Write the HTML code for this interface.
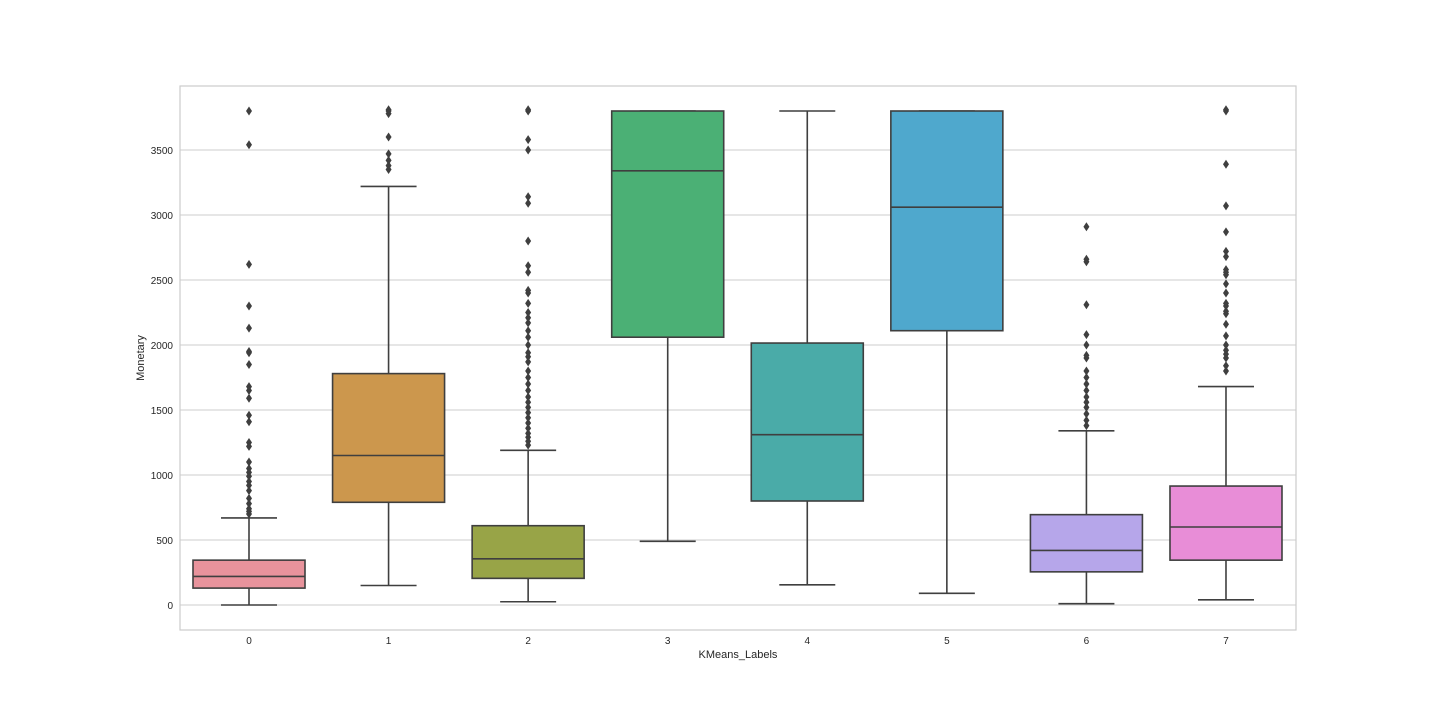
<!DOCTYPE html>
<html><head><meta charset="utf-8"><style>
body{margin:0;background:#fff;font-family:"Liberation Sans",sans-serif}
</style></head><body>
<svg id="chart" width="1440" height="720" xmlns="http://www.w3.org/2000/svg"></svg>
<script>
const categories=["0","1","2","3","4","5","6","7"];
const whiskerLow=[0,150,25,490,155,90,10,40];
const q1=[130,790,205,2060,800,2110,255,345];
const medians=[220,1150,355,3340,1310,3060,420,600];
const q3=[345,1780,610,3800,2015,3800,695,915];
const whiskerHigh=[670,3220,1190,3800,3800,3800,1340,1680];
const outliers=[
[3800,3540,2620,2300,2130,1950,1940,1850,1680,1650,1590,1460,1410,1250,1220,1100,1050,1020,990,950,920,880,820,780,740,720,700],
[3350,3380,3420,3470,3600,3780,3800,3810],
[1230,1260,1290,1320,1360,1400,1440,1480,1520,1560,1600,1650,1700,1750,1800,1870,1910,1940,2000,2060,2110,2170,2210,2250,2320,2400,2420,2560,2610,2800,3090,3140,3500,3580,3800,3810],
[],[],[],
[1380,1420,1470,1520,1560,1600,1650,1700,1750,1800,1900,1920,2000,2080,2310,2640,2660,2910],
[1800,1840,1900,1930,1960,2000,2070,2160,2240,2260,2300,2320,2400,2470,2540,2560,2580,2680,2720,2870,3070,3390,3800,3810]
];
const colors=["#e8939c","#cc974d","#98a447","#4bb075","#4aaba8","#4fa8cd","#b6a6ea","#e88dd7"];
const yTicks=[0,500,1000,1500,2000,2500,3000,3500];
const NS="http://www.w3.org/2000/svg";
const svg=document.getElementById("chart");
const L=180,R=1296,T=86,B=630;
const y=v=>605-v*0.13;
const x=i=>249+i*139.57;
const bw=112;
function el(t,a,p){const e=document.createElementNS(NS,t);for(const k in a)e.setAttribute(k,a[k]);(p||svg).appendChild(e);return e;}
for(const t of yTicks){
 const g=el("line",{x1:L,x2:R,y1:y(t),y2:y(t),stroke:"#cccccc","stroke-width":1});
 
 
 const tx=el("text",{x:L-7,y:y(t)+4,"text-anchor":"end","font-size":10,fill:"#262626"});
 tx.textContent=t;
 
 
}
const fr=el("rect",{x:L,y:T,width:R-L,height:B-T,fill:"none",stroke:"#cccccc","stroke-width":1.2});


categories.forEach((c,i)=>{
 const cx=x(i),g=el("g",{});
 
 
 const st={stroke:"#3f3f3f","stroke-width":1.6};
 el("line",Object.assign({x1:cx,x2:cx,y1:y(q1[i]),y2:y(whiskerLow[i])},st),g);
 el("line",Object.assign({x1:cx,x2:cx,y1:y(q3[i]),y2:y(whiskerHigh[i])},st),g);
 el("line",Object.assign({x1:cx-bw/4,x2:cx+bw/4,y1:y(whiskerLow[i]),y2:y(whiskerLow[i])},st),g);
 el("line",Object.assign({x1:cx-bw/4,x2:cx+bw/4,y1:y(whiskerHigh[i]),y2:y(whiskerHigh[i])},st),g);
 el("rect",Object.assign({x:cx-bw/2,y:y(q3[i]),width:bw,height:y(q1[i])-y(q3[i]),fill:colors[i]},st),g);
 el("line",Object.assign({x1:cx-bw/2,x2:cx+bw/2,y1:y(medians[i]),y2:y(medians[i])},st),g);
 for(const o of outliers[i]){
  const oy=y(o);
  const d=el("path",{d:`M${cx} ${oy-4.5}L${cx+3} ${oy}L${cx} ${oy+4.5}L${cx-3} ${oy}Z`,fill:"#3f3f3f"},g);
  
  
 }
 const tx=el("text",{x:cx,y:B+14,"text-anchor":"middle","font-size":10,fill:"#262626"});
 tx.textContent=c;
 
 
});
</script>
<div style="position:absolute;left:0;width:1476px;top:649px;text-align:center;font-size:11px;color:#262626">KMeans_Labels</div>
<div style="position:absolute;left:141px;top:358px;font-size:11px;color:#262626;transform:translate(-50%,-50%) rotate(-90deg)">Monetary</div>
</body></html>
